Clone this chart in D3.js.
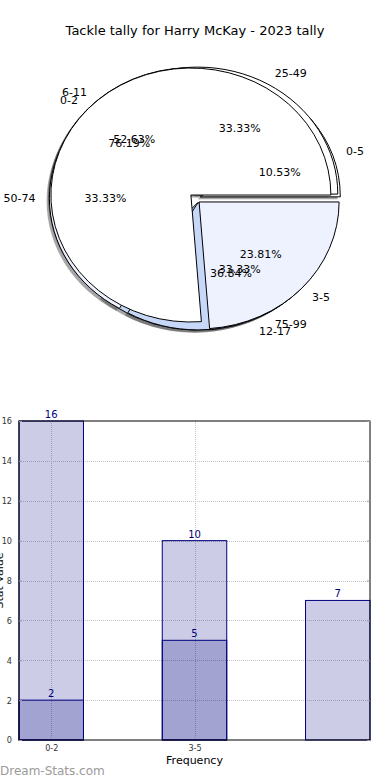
<!DOCTYPE html>
<html>
<head>
<meta charset="utf-8">
<script src="https://cdn.jsdelivr.net/npm/d3@7"></script>
<style>
body { margin: 0; background: #fff; }
svg { display: block; font-family: "DejaVu Sans", sans-serif; }
</style>
</head>
<body>
<div id="chart"></div>
<script>
// three tallies drawn into the same pie
var pieOneLabels = ["0-5", "6-11", "12-17"];
var pieOneValues = [2, 10, 7];
var pieTwoLabels = ["0-2", "3-5"];
var pieTwoValues = [16, 5];
var pieThreeLabels = ["25-49", "50-74", "75-99"];
var pieThreeValues = [1, 1, 1];
var sliceColors = ["#ffffff", "#edf2fe", "#c6d7f8"];

// bar chart
var barTickLabels = ["0-2", "3-5"];
var barBackValues = [16, 10, 7];
var barFrontValues = [2, 5];
var yTickValues = [0, 2, 4, 6, 8, 10, 12, 14, 16];

var svgWidth = 390;
var svgHeight = 780;

var svg = d3.select("#chart")
    .append("svg")
    .attr("width", svgWidth)
    .attr("height", svgHeight);

svg.append("text")
    .attr("x", 195)
    .attr("y", 35)
    .attr("text-anchor", "middle")
    .attr("font-size", "13px")
    .text("Tackle tally for Harry McKay - 2023 tally");

// ---------- pie ----------
var cx = 195, cy = 198.5, rx = 140, ry = 127, explode = 0.04;

var pie = d3.pie()
    .sort(null)
    .startAngle(Math.PI / 2)
    .endAngle(Math.PI / 2 - 2 * Math.PI);

var arc = d3.arc().innerRadius(0).outerRadius(1);
var pctFormat = d3.format(".2f");

// draw order: first tally, third tally, second tally on top
var pieSets = [
    {labels: pieOneLabels, values: pieOneValues},
    {labels: pieThreeLabels, values: pieThreeValues},
    {labels: pieTwoLabels, values: pieTwoValues}
];

var slices = [];
pieSets.forEach(function(set) {
    var total = d3.sum(set.values);
    pie(set.values).forEach(function(d, i) {
        var mid = (d.startAngle + d.endAngle) / 2;
        slices.push({
            arc: d,
            label: set.labels[i],
            pct: pctFormat(d.value / total * 100) + "%",
            color: sliceColors[i % sliceColors.length],
            dx: Math.sin(mid),
            dy: -Math.cos(mid),
            ox: explode * rx * Math.sin(mid),
            oy: -explode * ry * Math.cos(mid)
        });
    });
});

var shadowGroup = svg.append("g");
var wedgeGroup = svg.append("g");
var textGroup = svg.append("g").attr("font-size", "11px");

shadowGroup.selectAll("path")
    .data(slices)
    .enter()
    .append("path")
    .attr("d", d => arc(d.arc))
    .attr("transform", d => `translate(${cx + d.ox - 2.8},${cy + d.oy + 2.5}) scale(${rx},${ry})`)
    .attr("fill", "#4d4d4d")
    .attr("fill-opacity", 0.5);

wedgeGroup.selectAll("path")
    .data(slices)
    .enter()
    .append("path")
    .attr("d", d => arc(d.arc))
    .attr("transform", d => `translate(${cx + d.ox},${cy + d.oy}) scale(${rx},${ry})`)
    .attr("fill", d => d.color)
    .attr("stroke", "#000")
    .attr("stroke-width", 1)
    .attr("vector-effect", "non-scaling-stroke");

textGroup.selectAll(".slice-label")
    .data(slices)
    .enter()
    .append("text")
    .attr("class", "slice-label")
    .attr("x", d => cx + d.ox + 1.1 * rx * d.dx)
    .attr("y", d => cy + d.oy + 1.1 * ry * d.dy)
    .attr("dy", "0.35em")
    .attr("text-anchor", d => d.dx > 0 ? "start" : "end")
    .text(d => d.label);

textGroup.selectAll(".slice-pct")
    .data(slices)
    .enter()
    .append("text")
    .attr("class", "slice-pct")
    .attr("x", d => cx + d.ox + 0.6 * rx * d.dx)
    .attr("y", d => cy + d.oy + 0.6 * ry * d.dy)
    .attr("dy", "0.35em")
    .attr("text-anchor", "middle")
    .text(d => d.pct);

// ---------- bars ----------
var plotLeft = 19, plotRight = 370, plotTop = 421, plotBottom = 740;
var barWidth = 0.45;

var x = d3.scaleLinear()
    .domain([-0.225, 2.225])
    .range([plotLeft, plotRight]);

var y = d3.scaleLinear()
    .domain([0, 16])
    .range([plotBottom, plotTop]);

var gridGroup = svg.append("g")
    .attr("stroke", "#c4c4c4")
    .attr("stroke-dasharray", "1,1");

gridGroup.selectAll(".hgrid")
    .data(yTickValues.slice(1, -1))
    .enter()
    .append("line")
    .attr("x1", plotLeft)
    .attr("x2", plotRight)
    .attr("y1", d => Math.round(y(d)) + 0.5)
    .attr("y2", d => Math.round(y(d)) + 0.5);

gridGroup.selectAll(".vgrid")
    .data(barTickLabels)
    .enter()
    .append("line")
    .attr("x1", (d, i) => Math.round(x(i)) + 0.5)
    .attr("x2", (d, i) => Math.round(x(i)) + 0.5)
    .attr("y1", plotTop)
    .attr("y2", plotBottom);

function drawBars(values) {
    svg.append("g")
        .selectAll("rect")
        .data(values)
        .enter()
        .append("rect")
        .attr("x", (d, i) => x(i - barWidth / 2))
        .attr("width", x(barWidth) - x(0))
        .attr("y", d => y(d))
        .attr("height", d => y(0) - y(d))
        .attr("fill", "#000080")
        .attr("fill-opacity", 0.2)
        .attr("stroke", "#000080")
        .attr("stroke-width", 1);

    svg.append("g")
        .selectAll("text")
        .data(values)
        .enter()
        .append("text")
        .attr("x", (d, i) => x(i))
        .attr("y", d => y(d) - 3)
        .attr("text-anchor", "middle")
        .attr("font-size", "10px")
        .attr("fill", "#00007a")
        .text(d => d);
}

drawBars(barBackValues);
drawBars(barFrontValues);

// frame
svg.append("rect")
    .attr("x", plotLeft)
    .attr("y", plotTop)
    .attr("width", plotRight - plotLeft)
    .attr("height", plotBottom - plotTop)
    .attr("fill", "none")
    .attr("stroke", "#000")
    .attr("stroke-width", 1);

var yAxis = d3.axisLeft(y)
    .tickValues(yTickValues)
    .tickSize(-3)
    .tickPadding(7);

var yAxisGroup = svg.append("g")
    .attr("transform", `translate(${plotLeft},0)`)
    .call(yAxis);

var yAxisRight = svg.append("g")
    .attr("transform", `translate(${plotRight},0)`)
    .call(d3.axisRight(y).tickValues(yTickValues).tickSize(-3).tickFormat(""));

var xAxis = d3.axisBottom(x)
    .tickValues([0, 1])
    .tickFormat((d, i) => barTickLabels[i])
    .tickSize(0)
    .tickPadding(5);

var xAxisGroup = svg.append("g")
    .attr("transform", `translate(0,${plotBottom})`)
    .call(xAxis);

[yAxisGroup, yAxisRight, xAxisGroup].forEach(function(g) {
    g.select(".domain").remove();
    g.selectAll(".tick line").attr("stroke", "#999");
    g.selectAll(".tick text")
        .attr("font-family", "'Liberation Sans Narrow', 'DejaVu Sans Condensed', sans-serif")
        .attr("font-size", "9px")
        .attr("fill", "#333");
});

svg.append("text")
    .attr("x", (plotLeft + plotRight) / 2)
    .attr("y", 764)
    .attr("text-anchor", "middle")
    .attr("font-size", "11px")
    .text("Frequency");

svg.append("text")
    .attr("transform", `translate(3,${(plotTop + plotBottom) / 2}) rotate(-90)`)
    .attr("text-anchor", "middle")
    .attr("font-size", "11px")
    .text("Stat Value");

svg.append("text")
    .attr("x", 0)
    .attr("y", 775)
    .attr("font-size", "12px")
    .attr("fill", "#9a9a9a")
    .text("Dream-Stats.com");
</script>
</body>
</html>
